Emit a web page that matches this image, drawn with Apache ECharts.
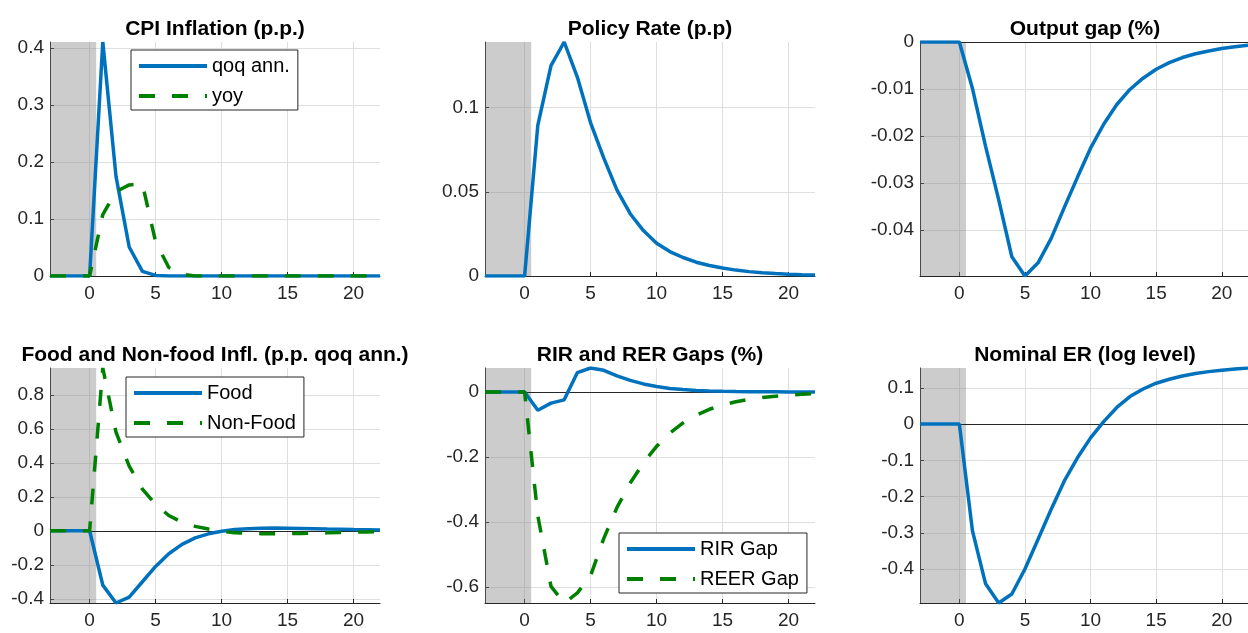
<!DOCTYPE html>
<html>
<head>
<meta charset="utf-8">
<title>IRF panels</title>
<script src="https://cdn.jsdelivr.net/npm/echarts@6/dist/echarts.min.js"></script>
<style>
  html, body { margin: 0; padding: 0; background: #fff; }
  #chart { width: 1248px; height: 633px; }
</style>
</head>
<body>
<div id="chart"></div>
<script>
// quarters after the shock
var periods = [-3, -2, -1, 0, 1, 2, 3, 4, 5, 6, 7, 8, 9, 10, 11, 12, 13, 14, 15, 16, 17, 18, 19, 20, 21, 22];
var xTicks = [0, 5, 10, 15, 20];
var shadeFrom = -3, shadeTo = 0.5;

// CPI inflation
var cpiQoq = [0, 0, 0, 0, 0.411, 0.175, 0.051, 0.008, 0.001, 0, 0, 0, 0, 0, 0, 0, 0, 0, 0, 0, 0, 0, 0, 0, 0, 0];
var cpiYoy = [0, 0, 0, 0, 0.108, 0.148, 0.16, 0.162, 0.06, 0.015, 0.003, 0, 0, 0, 0, 0, 0, 0, 0, 0, 0, 0, 0, 0, 0, 0];
// policy rate
var policyRate = [0, 0, 0, 0, 0.0895, 0.125, 0.139, 0.118, 0.091, 0.070, 0.051, 0.037, 0.027, 0.0195, 0.0145, 0.011, 0.0082, 0.0062, 0.0047, 0.0035, 0.0026, 0.002, 0.0015, 0.0011, 0.0008, 0.0006];
// output gap
var outputGap = [0, 0, 0, 0, -0.0099, -0.0222, -0.0336, -0.0457, -0.0498, -0.047, -0.0418, -0.0352, -0.0288, -0.0226, -0.0175, -0.0133, -0.0101, -0.0077, -0.0058, -0.0044, -0.0033, -0.0025, -0.0019, -0.0014, -0.001, -0.0007];
// food / non-food inflation
var foodInfl = [0, 0, 0, 0, -0.32, -0.425, -0.39, -0.30, -0.21, -0.135, -0.08, -0.042, -0.018, -0.003, 0.007, 0.012, 0.015, 0.016, 0.015, 0.014, 0.012, 0.010, 0.009, 0.007, 0.006, 0.005];
var nonFoodInfl = [0, 0, 0, 0, 0.958, 0.58, 0.38, 0.245, 0.155, 0.09, 0.05, 0.026, 0.01, -0.004, -0.011, -0.015, -0.017, -0.018, -0.017, -0.016, -0.014, -0.012, -0.010, -0.008, -0.007, -0.005];
// real interest rate and real exchange rate gaps
var rirGap = [0, 0, 0, 0, -0.056, -0.034, -0.024, 0.06, 0.074, 0.067, 0.05, 0.036, 0.025, 0.017, 0.011, 0.0075, 0.005, 0.0035, 0.0024, 0.0017, 0.0012, 0.0008, 0.0006, 0.0004, 0.0003, 0.0002];
var reerGap = [0, 0, 0, 0, -0.38, -0.598, -0.649, -0.618, -0.565, -0.45, -0.355, -0.28, -0.218, -0.167, -0.126, -0.095, -0.071, -0.053, -0.04, -0.03, -0.022, -0.017, -0.013, -0.01, -0.007, -0.005];
// nominal exchange rate
var nominalER = [0, 0, 0, 0, -0.295, -0.441, -0.494, -0.469, -0.40, -0.318, -0.235, -0.157, -0.093, -0.038, 0.007, 0.046, 0.076, 0.097, 0.113, 0.124, 0.133, 0.14, 0.145, 0.149, 0.152, 0.155];

// y tick labels per panel
var yTicksCpi = [0, 0.1, 0.2, 0.3, 0.4];
var yTicksPolicy = [0, 0.05, 0.1];
var yTicksGap = [-0.04, -0.03, -0.02, -0.01, 0];
var yTicksFood = [-0.4, -0.2, 0, 0.2, 0.4, 0.6, 0.8];
var yTicksRer = [-0.6, -0.4, -0.2, 0];
var yTicksNer = [-0.4, -0.3, -0.2, -0.1, 0, 0.1];

var BLUE = '#0072BD';
var GREEN = '#008000';
var FONT = '"Liberation Sans", Arial, Helvetica, sans-serif';

var panels = [
  { title: 'CPI Inflation (p.p.)', ticks: yTicksCpi, box: [50, 42, 330, 234],
    lines: [['qoq ann.', cpiQoq, BLUE, false], ['yoy', cpiYoy, GREEN, true]],
    legend: [131, 50] },
  { title: 'Policy Rate (p.p)', ticks: yTicksPolicy, box: [485, 42, 330, 234],
    lines: [['Policy Rate', policyRate, BLUE, false]] },
  { title: 'Output gap (%)', ticks: yTicksGap, box: [920, 42, 330, 234],
    lines: [['Output gap', outputGap, BLUE, false]] },
  { title: 'Food and Non-food Infl. (p.p. qoq ann.)', ticks: yTicksFood, box: [50, 368, 330, 235],
    lines: [['Food', foodInfl, BLUE, false], ['Non-Food', nonFoodInfl, GREEN, true]],
    legend: [126, 377] },
  { title: 'RIR and RER Gaps (%)', ticks: yTicksRer, box: [485, 368, 330, 235],
    lines: [['RIR Gap', rirGap, BLUE, false], ['REER Gap', reerGap, GREEN, true]],
    legend: [619, 533] },
  { title: 'Nominal ER (log level)', ticks: yTicksNer, box: [920, 368, 330, 235],
    lines: [['Nominal ER', nominalER, BLUE, false]] }
];

function pairs(vals) {
  return periods.map(function (p, i) { return [p, vals[i]]; });
}

var grids = [], xAxes = [], yAxes = [], titles = [], legends = [], series = [];

panels.forEach(function (pn, k) {
  var b = pn.box;
  grids.push({ left: b[0], top: b[1], width: b[2], height: b[3], containLabel: false });

  // tight y range, like matlab's axis tight
  var all = [];
  pn.lines.forEach(function (l) { all = all.concat(l[1]); });
  var lo = Math.min.apply(null, all), hi = Math.max.apply(null, all);

  var axisCommon = {
    axisLine: { show: true, onZero: false, lineStyle: { color: '#262626', width: 1 } },
    axisTick: { show: true, inside: true, length: 4, lineStyle: { color: '#262626' } },
    splitLine: { show: true, lineStyle: { color: '#dfdfdf', width: 1 } },
    axisLabel: { color: '#262626', fontSize: 19, fontFamily: FONT }
  };

  xAxes.push(echarts.util.merge({
    type: 'value', gridIndex: k, min: -3, max: 22,
    axisTick: { customValues: xTicks },
    axisLabel: { customValues: xTicks, margin: 8 }
  }, axisCommon));

  yAxes.push(echarts.util.merge({
    type: 'value', gridIndex: k, min: lo, max: hi,
    axisTick: { customValues: pn.ticks },
    axisLabel: { customValues: pn.ticks, margin: 6 }
  }, axisCommon));

  titles.push({
    text: pn.title, left: b[0] + b[2] / 2, top: b[1] - 23, textAlign: 'center', padding: 0,
    textStyle: { fontSize: 21, fontWeight: 'bold', color: '#000', fontFamily: FONT }
  });

  // shaded pre-shock window and zero line, under the data
  series.push({
    type: 'line', xAxisIndex: k, yAxisIndex: k, data: [], silent: true, z: 1,
    markArea: {
      silent: true,
      itemStyle: { color: 'rgba(128,128,128,0.4)' },
      data: [[{ xAxis: shadeFrom }, { xAxis: shadeTo }]]
    },
    markLine: {
      silent: true, symbol: 'none', label: { show: false },
      lineStyle: { color: '#262626', width: 1, type: 'solid' },
      data: [{ yAxis: 0 }]
    }
  });

  pn.lines.forEach(function (l) {
    series.push({
      name: l[0], type: 'line', xAxisIndex: k, yAxisIndex: k,
      data: pairs(l[1]), symbol: 'none', z: 10,
      lineStyle: { color: l[2], width: 3.5, type: l[3] ? [16, 17] : 'solid' },
      itemStyle: { color: l[2] }
    });
  });

  if (pn.legend) {
    legends.push({
      left: pn.legend[0], top: pn.legend[1], orient: 'vertical',
      data: pn.lines.map(function (l) { return l[0]; }),
      itemWidth: 68, itemHeight: 16, itemGap: 10,
      padding: [6, 8, 4, 6],
      borderColor: '#262626', borderWidth: 1, borderRadius: 0, backgroundColor: '#fff',
      selectedMode: false,
      itemStyle: { opacity: 0 },
      lineStyle: { width: 4 },
      textStyle: { fontSize: 20, color: '#000', fontFamily: FONT }
    });
  }
});

var chart = echarts.init(document.getElementById('chart'), null, { renderer: 'canvas' });
chart.setOption({
  animation: false,
  backgroundColor: '#fff',
  title: titles,
  legend: legends,
  grid: grids,
  xAxis: xAxes,
  yAxis: yAxes,
  series: series
});
</script>
</body>
</html>
